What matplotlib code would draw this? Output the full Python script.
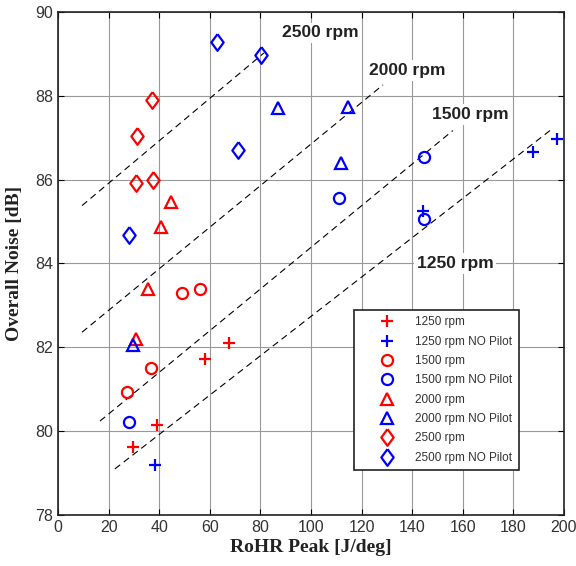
import matplotlib.pyplot as plt

# Measured points (RoHR peak [J/deg], overall noise [dB])
x_1250 = [39.1, 29.6, 58.1, 67.6]
y_1250 = [80.14, 79.62, 81.72, 82.1]
x_1250_np = [38.3, 144.3, 187.7, 197.2]
y_1250_np = [79.19, 85.26, 86.67, 86.98]

x_1500 = [27.3, 36.8, 49.0, 56.1]
y_1500 = [80.93, 81.5, 83.3, 83.4]
x_1500_np = [28.1, 111.1, 144.7, 144.7]
y_1500_np = [80.21, 85.55, 86.55, 85.07]

x_2000 = [44.7, 40.7, 35.6, 30.8]
y_2000 = [85.47, 84.86, 83.4, 82.2]
x_2000_np = [29.6, 87.0, 114.6, 111.9]
y_2000_np = [82.05, 87.71, 87.74, 86.4]

x_2500 = [37.2, 31.2, 30.8, 37.5]
y_2500 = [87.9, 87.05, 85.93, 86.0]
x_2500_np = [28.1, 62.8, 80.2, 71.1]
y_2500_np = [84.67, 89.29, 88.98, 86.71]

# Dashed trend lines: (x start, x end), (y start, y end)
trend_x = {'2500': [9.5, 81.4], '2000': [9.5, 128.5],
           '1500': [16.6, 156.1], '1250': [22.5, 194.5]}
trend_y = {'2500': [85.38, 89.02], '2000': [82.36, 88.26],
           '1500': [80.24, 87.17], '1250': [79.1, 87.17]}
label_pos = {'2500': (103.6, 89.5), '2000': (138, 88.6),
             '1500': (163, 87.55), '1250': (157, 84.0)}

fig = plt.figure(figsize=(5.76, 5.66), dpi=100)
ax = fig.add_axes([0.1007, 0.0901, 0.8783, 0.8889])

# Trend lines and their labels
for key in trend_x:
    ax.plot(trend_x[key], trend_y[key], color='black', linestyle=(0, (6, 4)), linewidth=0.8)
    lx, ly = label_pos[key]
    ax.text(lx, ly, f'{key} rpm', ha='center', va='center', fontsize=12.5,
            fontweight='bold', family='Liberation Sans', color='#222222',
            bbox=dict(facecolor='white', edgecolor='none', pad=2))

# MATLAB-like diamond (wider than matplotlib's thin 'd')
diamond = [(0, 1), (0.74, 0), (0, -1), (-0.74, 0), (0, 1)]

# Data series
ms = 8
mew = 1.6
ax.plot(x_1250, y_1250, '+', color='red', ms=ms + 1, mew=mew, label='1250 rpm')
ax.plot(x_1250_np, y_1250_np, '+', color='blue', ms=ms + 1, mew=mew, label='1250 rpm NO Pilot')
ax.plot(x_1500, y_1500, 'o', color='red', mfc='none', ms=ms, mew=mew, label='1500 rpm')
ax.plot(x_1500_np, y_1500_np, 'o', color='blue', mfc='none', ms=ms, mew=mew, label='1500 rpm NO Pilot')
ax.plot(x_2000, y_2000, '^', color='red', mfc='none', ms=ms + 1, mew=mew, label='2000 rpm')
ax.plot(x_2000_np, y_2000_np, '^', color='blue', mfc='none', ms=ms + 1, mew=mew, label='2000 rpm NO Pilot')
ax.plot(x_2500, y_2500, marker=diamond, ls='none', color='red', mfc='none', ms=12, mew=mew, label='2500 rpm')
ax.plot(x_2500_np, y_2500_np, marker=diamond, ls='none', color='blue', mfc='none', ms=12, mew=mew, label='2500 rpm NO Pilot')

# Axes styling (MATLAB look)
ax.set_xlim(0, 200)
ax.set_ylim(78, 90)
ax.set_xticks(range(0, 201, 20))
ax.set_yticks(range(78, 91, 2))
ax.grid(True, color='#999999', linewidth=0.8)
ax.set_axisbelow(True)
ax.tick_params(direction='in', top=True, right=True, length=4, labelsize=11.5)
for lbl in ax.get_xticklabels() + ax.get_yticklabels():
    lbl.set_family('Liberation Sans')
    lbl.set_color('#333333')
for sp in ax.spines.values():
    sp.set_linewidth(1.2)
    sp.set_color('#222222')

ax.set_xlabel('RoHR Peak [J/deg]', family='Liberation Serif', fontweight='bold',
              fontsize=14, color='#222222', labelpad=3)
ax.set_ylabel('Overall Noise [dB]', family='Liberation Serif', fontweight='bold',
              fontsize=14, color='#222222', labelpad=9)

leg = ax.legend(loc='upper left', bbox_to_anchor=(0.585, 0.4076), borderaxespad=0,
                fancybox=False, framealpha=1, edgecolor='#222222',
                prop={'family': 'Liberation Sans', 'size': 8.5},
                labelspacing=0.62, handletextpad=0.15, borderpad=0.55, handlelength=4.5)
leg.get_frame().set_linewidth(1.2)
for t in leg.get_texts():
    t.set_color('#333333')

fig.savefig('out.png', dpi=100)
